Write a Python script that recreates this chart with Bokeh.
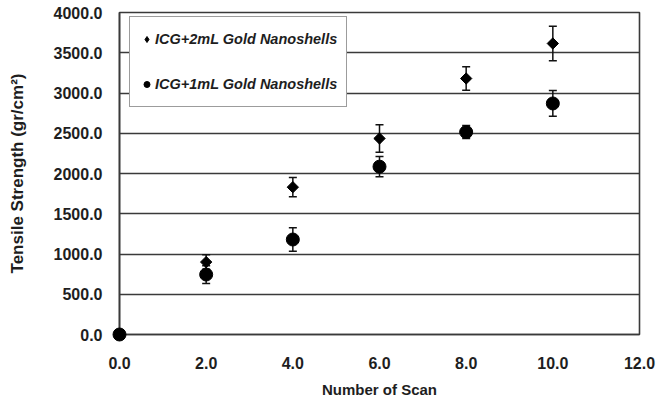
import math
from bokeh.plotting import figure
from bokeh.models import (ColumnDataSource, Whisker, TeeHead, FixedTicker,
                          NumeralTickFormatter, Legend, LegendItem, Range1d)
from bokeh.embed import file_html
from bokeh.resources import INLINE

# ---- data ----
scans = [0, 2, 4, 6, 8, 10]
gold_2ml = [0, 900, 1830, 2435, 3180, 3615]
gold_2ml_err = [0, 90, 120, 170, 145, 215]
gold_1ml = [0, 745, 1180, 2085, 2515, 2870]
gold_1ml_err = [0, 110, 145, 125, 80, 160]

label_2ml = "ICG+2mL Gold Nanoshells"
label_1ml = "ICG+1mL Gold Nanoshells"
y_ticks = [0, 500, 1000, 1500, 2000, 2500, 3000, 3500, 4000]
x_ticks = [0, 2, 4, 6, 8, 10, 12]

FONT = "Liberation Sans"
DARK = "#3a3a3a"
TEXT = "#1e1e1e"

src2 = ColumnDataSource(dict(
    x=scans, y=gold_2ml,
    upper=[v + e for v, e in zip(gold_2ml, gold_2ml_err)],
    lower=[v - e for v, e in zip(gold_2ml, gold_2ml_err)]))
src1 = ColumnDataSource(dict(
    x=scans, y=gold_1ml,
    upper=[v + e for v, e in zip(gold_1ml, gold_1ml_err)],
    lower=[v - e for v, e in zip(gold_1ml, gold_1ml_err)]))

p = figure(width=663, height=400, output_backend="svg", toolbar_location=None,
           x_range=Range1d(0, 12), y_range=Range1d(0, 4000),
           min_border_left=119, min_border_right=24, min_border_top=12,
           min_border_bottom=65)
p.background_fill_color = "white"
p.border_fill_color = "white"
p.outline_line_color = DARK
p.outline_line_width = 1.6

p.xgrid.grid_line_color = None
p.ygrid.grid_line_color = DARK
p.ygrid.grid_line_width = 1.6

for ax in (p.xaxis[0], p.yaxis[0]):
    ax.axis_line_color = DARK
    ax.axis_line_width = 1.6
    ax.major_tick_in = 0
    ax.major_tick_out = 0
    ax.minor_tick_in = 0
    ax.minor_tick_out = 0
    ax.major_label_text_font = FONT
    ax.major_label_text_font_style = "bold"
    ax.major_label_text_font_size = "16px"
    ax.major_label_text_color = TEXT
    ax.axis_label_text_font = FONT
    ax.axis_label_text_font_style = "bold"
    ax.axis_label_text_font_size = "15px"
    ax.axis_label_text_color = TEXT
    ax.formatter = NumeralTickFormatter(format="0.0")

p.xaxis[0].ticker = FixedTicker(ticks=x_ticks)
p.yaxis[0].ticker = FixedTicker(ticks=y_ticks)
p.xaxis[0].axis_label = "Number of Scan"
p.yaxis[0].axis_label = "Tensile Strength (gr/cm²)"
p.yaxis[0].axis_label_text_font_size = "17px"
p.xaxis[0].major_label_standoff = 22
p.yaxis[0].major_label_standoff = 17
p.xaxis[0].axis_label_standoff = 9
p.yaxis[0].axis_label_standoff = 24

for src in (src2, src1):
    w = Whisker(source=src, base="x", upper="upper", lower="lower",
                line_color="#111111", line_width=1.5,
                upper_head=TeeHead(size=8, line_color="#111111", line_width=1.5),
                lower_head=TeeHead(size=8, line_color="#111111", line_width=1.5))
    p.add_layout(w)

# diamond key glyph (legend swatches are not rotated), hidden under the
# rotated squares drawn on top
r2_key = p.scatter("x", "y", source=src2, marker="diamond", size=7,
                   fill_color="black", line_color="black")
r2 = p.scatter("x", "y", source=src2, marker="square", angle=math.pi / 4,
               size=8, fill_color="black", line_color="black", level="overlay")
r1 = p.scatter("x", "y", source=src1, marker="circle", size=13,
               fill_color="black", line_color="black", level="overlay")

legend = Legend(items=[LegendItem(label=label_2ml, renderers=[r2_key]),
                       LegendItem(label=label_1ml, renderers=[r1])],
                location=(10, 227), orientation="vertical",
                padding=9, spacing=19, glyph_width=15, glyph_height=26,
                label_height=26, label_standoff=1,
                label_text_font=FONT, label_text_font_style="bold italic",
                label_text_font_size="14.5px", label_text_color=TEXT,
                border_line_color=DARK, border_line_width=1.5,
                background_fill_color="white", background_fill_alpha=1.0,
                margin=0)
p.add_layout(legend, "center")

open("out.html", "w").write(file_html(p, INLINE))
